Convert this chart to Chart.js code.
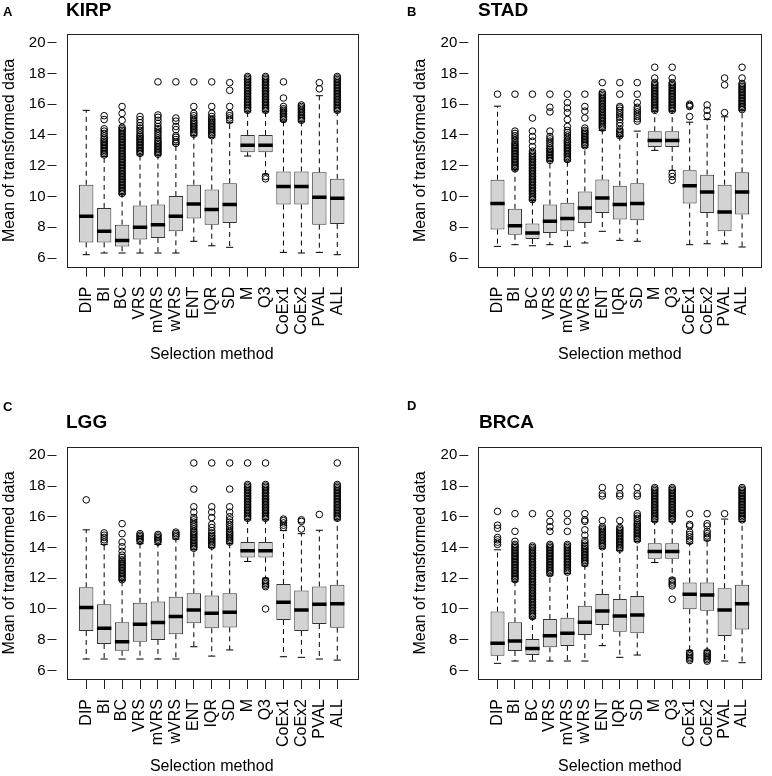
<!DOCTYPE html>
<html>
<head>
<meta charset="utf-8">
<script src="https://cdn.jsdelivr.net/npm/chart.js@4.4.1/dist/chart.umd.min.js"></script>
<style>
  body { margin: 0; background: #fff; }
  #wrap { position: relative; width: 772px; height: 776px; font-family: 'Liberation Sans', Arial, Helvetica, sans-serif; }
  canvas { position: absolute; }
  .lbl { position: absolute; font-weight: bold; line-height: 1; color: #000; white-space: nowrap; }
</style>
</head>
<body>
<div id="wrap">
  <canvas id="kirp" width="386" height="388" style="left:0;top:0"></canvas>
  <canvas id="stad" width="386" height="388" style="left:386px;top:0"></canvas>
  <canvas id="lgg" width="386" height="388" style="left:0;top:388px"></canvas>
  <canvas id="brca" width="386" height="388" style="left:386px;top:388px"></canvas>
  <div class="lbl" style="left:3px;top:5px;font-size:13px">A</div>
  <div class="lbl" style="left:66px;top:0px;font-size:19px">KIRP</div>
  <div class="lbl" style="left:407px;top:5px;font-size:13px">B</div>
  <div class="lbl" style="left:478px;top:0px;font-size:19px">STAD</div>
  <div class="lbl" style="left:3px;top:400px;font-size:13px">C</div>
  <div class="lbl" style="left:66px;top:412px;font-size:19px">LGG</div>
  <div class="lbl" style="left:407px;top:399px;font-size:13px">D</div>
  <div class="lbl" style="left:479px;top:412px;font-size:19px">BRCA</div>
</div>
<script>
const FONT = "'Liberation Sans', Arial, Helvetica, sans-serif";

const categories = ['DIP', 'BI', 'BC', 'VRS', 'mVRS', 'wVRS', 'ENT', 'IQR', 'SD', 'M', 'Q3', 'CoEx1', 'CoEx2', 'PVAL', 'ALL'];
const yTicks = [6, 8, 10, 12, 14, 16, 18, 20];

// KIRP
const kirpLow = [6.22, 6.33, 6.33, 6.33, 6.33, 6.33, 7.09, 6.8, 6.7, 12.63, 11.45, 6.37, 6.33, 6.37, 6.22];
const kirpQ1 = [7.02, 7.02, 6.76, 7.2, 7.3, 7.74, 8.57, 8.17, 8.28, 12.88, 12.88, 9.48, 9.48, 8.17, 8.22];
const kirpMedian = [8.72, 7.74, 7.15, 8.0, 8.17, 8.72, 9.52, 9.15, 9.48, 13.33, 13.33, 10.65, 10.65, 9.96, 9.89];
const kirpQ3 = [10.76, 9.26, 8.17, 9.41, 9.48, 10.03, 10.77, 10.46, 10.87, 14.0, 14.0, 11.63, 11.63, 11.57, 11.15];
const kirpHigh = [15.6, 12.6, 10.15, 12.7, 12.7, 13.4, 13.95, 13.85, 14.8, 15.5, 15.5, 14.9, 14.85, 16.55, 15.5];
const kirpOutliers = [
  [],
  [12.7, 12.8, 12.9, 13.0, 13.1, 13.2, 13.3, 13.4, 13.5, 13.6, 13.7, 13.8, 13.95, 14.1, 14.25, 14.4, 15.0, 15.25],
  [10.2, 10.3, 10.4, 10.5, 10.6, 10.7, 10.8, 10.9, 11.0, 11.1, 11.2, 11.3, 11.4, 11.5, 11.6, 11.7, 11.8, 11.9, 12.0, 12.1, 12.2, 12.3, 12.4, 12.5, 12.6, 12.7, 12.8, 12.9, 13.0, 13.1, 13.2, 13.3, 13.4, 13.5, 13.6, 13.7, 13.8, 13.9, 14.0, 14.1, 14.2, 14.3, 14.4, 14.5, 14.95, 15.4, 15.85],
  [12.8, 12.9, 13.0, 13.1, 13.2, 13.3, 13.4, 13.5, 13.6, 13.7, 13.8, 13.9, 14.0, 14.15, 14.3, 14.45, 14.6, 14.8, 15.0, 15.2],
  [12.75, 12.85, 12.95, 13.05, 13.15, 13.25, 13.35, 13.45, 13.55, 13.65, 13.8, 13.95, 14.1, 14.25, 14.4, 14.55, 14.75, 14.95, 15.15, 15.3, 17.45],
  [13.45, 13.55, 13.7, 13.85, 13.95, 14.35, 14.55, 14.9, 15.1, 17.45],
  [14.05, 14.15, 14.25, 14.35, 14.45, 14.55, 14.65, 14.75, 14.85, 14.95, 15.1, 15.25, 15.4, 15.85, 17.45],
  [13.95, 14.05, 14.15, 14.25, 14.35, 14.45, 14.55, 14.65, 14.75, 14.85, 14.95, 15.05, 15.2, 15.4, 15.85, 17.45],
  [14.95, 15.1, 15.25, 15.4, 15.85, 16.9, 17.4],
  [15.6, 15.7, 15.8, 15.9, 16.0, 16.1, 16.2, 16.3, 16.4, 16.5, 16.6, 16.7, 16.8, 16.9, 17.0, 17.1, 17.2, 17.3, 17.4, 17.5, 17.6, 17.7, 17.8],
  [11.15, 11.3, 15.6, 15.7, 15.8, 15.9, 16.0, 16.1, 16.2, 16.3, 16.4, 16.5, 16.6, 16.7, 16.8, 16.9, 17.0, 17.1, 17.2, 17.3, 17.4, 17.5, 17.6, 17.7, 17.8],
  [15.0, 15.1, 15.2, 15.3, 15.4, 15.5, 15.6, 15.7, 15.85, 16.4, 17.45],
  [14.95, 15.05, 15.15, 15.25, 15.35, 15.45, 15.55, 15.65, 15.75, 15.85, 15.95],
  [17.0, 17.4],
  [15.6, 15.7, 15.8, 15.9, 16.0, 16.1, 16.2, 16.3, 16.4, 16.5, 16.6, 16.7, 16.8, 16.9, 17.0, 17.1, 17.2, 17.3, 17.4, 17.5, 17.6, 17.7, 17.8]
];

// STAD
const stadLow = [6.76, 6.87, 6.8, 6.87, 6.76, 6.98, 7.74, 7.15, 7.09, 13.0, 11.7, 6.87, 6.93, 6.93, 6.72];
const stadQ1 = [7.85, 7.52, 7.24, 7.63, 7.74, 8.28, 8.93, 8.5, 8.46, 13.22, 13.22, 9.54, 8.93, 7.74, 8.83];
const stadMedian = [9.54, 8.1, 7.63, 8.39, 8.57, 9.26, 9.9, 9.48, 9.54, 13.64, 13.64, 10.7, 10.29, 9.0, 10.29];
const stadQ3 = [11.09, 9.2, 8.24, 9.48, 9.59, 10.33, 11.1, 10.7, 10.87, 14.24, 14.24, 11.7, 11.42, 10.77, 11.57];
const stadHigh = [15.87, 11.75, 9.75, 12.3, 12.3, 13.2, 14.3, 13.9, 14.25, 15.55, 15.55, 14.83, 15.0, 15.18, 15.6];
const stadOutliers = [
  [16.65],
  [11.8, 11.9, 12.0, 12.1, 12.2, 12.3, 12.4, 12.5, 12.6, 12.7, 12.8, 12.9, 13.0, 13.1, 13.2, 13.3, 13.4, 13.5, 13.65, 13.8, 13.95, 14.1, 14.25, 16.65],
  [9.8, 9.9, 10.0, 10.1, 10.2, 10.3, 10.4, 10.5, 10.6, 10.7, 10.8, 10.9, 11.0, 11.1, 11.2, 11.3, 11.4, 11.5, 11.6, 11.7, 11.8, 11.9, 12.0, 12.1, 12.2, 12.3, 12.4, 12.5, 12.6, 12.7, 12.8, 12.95, 13.25, 13.6, 13.9, 14.25, 15.1, 16.65],
  [12.35, 12.45, 12.55, 12.65, 12.75, 12.85, 12.95, 13.05, 13.15, 13.3, 13.45, 13.6, 13.75, 13.9, 14.25, 15.5, 15.8, 16.65],
  [12.4, 12.5, 12.6, 12.7, 12.8, 12.9, 13.0, 13.1, 13.2, 13.3, 13.4, 13.5, 13.6, 13.7, 13.85, 14.0, 14.15, 14.3, 14.55, 15.0, 15.45, 15.75, 16.1, 16.65],
  [13.3, 13.4, 13.5, 13.6, 13.7, 13.8, 13.9, 14.0, 14.1, 14.2, 14.3, 14.45, 15.1, 15.55, 15.85, 16.65],
  [14.45, 14.55, 14.65, 14.75, 14.85, 14.95, 15.05, 15.15, 15.25, 15.35, 15.45, 15.55, 15.65, 15.75, 15.85, 15.95, 16.05, 16.15, 16.25, 16.35, 16.45, 16.55, 16.65, 16.75, 17.4],
  [13.95, 14.05, 14.15, 14.25, 14.35, 14.6, 14.8, 15.0, 15.15, 15.3, 15.45, 15.6, 15.75, 15.85, 16.65, 17.4],
  [14.9, 15.05, 15.2, 15.35, 15.5, 15.65, 15.8, 16.1, 16.65, 17.4],
  [15.6, 15.7, 15.8, 15.9, 16.0, 16.1, 16.2, 16.3, 16.4, 16.5, 16.6, 16.7, 16.8, 16.9, 17.0, 17.1, 17.2, 17.3, 17.4, 17.7, 18.4],
  [11.05, 11.3, 11.5, 15.6, 15.7, 15.8, 15.9, 16.0, 16.1, 16.2, 16.3, 16.4, 16.5, 16.6, 16.7, 16.8, 16.9, 17.0, 17.1, 17.2, 17.3, 17.4, 17.7, 18.4],
  [15.2, 15.85, 15.92, 16.0],
  [15.25, 15.6, 15.95],
  [15.45, 17.25, 17.7],
  [15.65, 15.75, 15.85, 15.95, 16.05, 16.15, 16.25, 16.35, 16.45, 16.55, 16.65, 16.75, 16.85, 16.95, 17.05, 17.15, 17.25, 17.35, 17.7, 18.4]
];

// LGG
const lggLow = [6.74, 6.74, 6.74, 6.74, 6.74, 6.74, 7.54, 6.93, 7.33, 13.09, 12.0, 6.89, 6.85, 6.74, 6.67];
const lggQ1 = [8.57, 7.72, 7.28, 7.87, 7.98, 8.35, 9.07, 8.74, 8.8, 13.35, 13.35, 9.28, 8.57, 9.02, 8.78];
const lggMedian = [10.09, 8.74, 7.87, 9.0, 9.11, 9.5, 9.93, 9.72, 9.78, 13.78, 13.78, 10.43, 9.93, 10.3, 10.33];
const lggQ3 = [11.41, 10.3, 9.13, 10.41, 10.48, 10.8, 11.02, 10.87, 11.02, 14.35, 14.35, 11.63, 11.2, 11.46, 11.57];
const lggHigh = [15.15, 14.2, 11.85, 14.25, 14.2, 14.55, 13.85, 14.0, 14.25, 15.8, 15.8, 15.1, 14.9, 15.12, 15.8];
const lggOutliers = [
  [17.1],
  [14.35, 14.5, 14.65, 14.8, 14.95],
  [11.9, 12.0, 12.1, 12.2, 12.3, 12.4, 12.5, 12.6, 12.7, 12.8, 12.9, 13.0, 13.1, 13.2, 13.35, 13.5, 13.75, 14.05, 14.35, 14.9, 15.55],
  [14.4, 14.5, 14.6, 14.7, 14.8, 14.9],
  [14.35, 14.45, 14.55, 14.65, 14.75, 14.85],
  [14.7, 14.8, 14.9, 15.0],
  [13.95, 14.05, 14.15, 14.25, 14.35, 14.45, 14.55, 14.65, 14.75, 14.85, 14.95, 15.05, 15.2, 15.35, 15.5, 15.65, 15.8, 15.95, 16.3, 16.65, 17.8, 19.5],
  [14.1, 14.2, 14.3, 14.4, 14.5, 14.6, 14.7, 14.8, 14.95, 15.1, 15.3, 15.5, 15.95, 16.3, 16.65, 19.5],
  [14.35, 14.45, 14.55, 14.65, 14.75, 14.85, 14.95, 15.05, 15.2, 15.35, 15.5, 15.65, 15.8, 16.0, 16.3, 16.65, 17.8, 19.5],
  [15.9, 16.0, 16.1, 16.2, 16.3, 16.4, 16.5, 16.6, 16.7, 16.8, 16.9, 17.0, 17.1, 17.2, 17.3, 17.4, 17.5, 17.6, 17.7, 17.8, 17.9, 18.0, 18.1, 19.5],
  [10.0, 11.45, 11.55, 11.65, 11.75, 11.85, 15.9, 16.0, 16.1, 16.2, 16.3, 16.4, 16.5, 16.6, 16.7, 16.8, 16.9, 17.0, 17.1, 17.2, 17.3, 17.4, 17.5, 17.6, 17.7, 17.8, 17.9, 18.0, 18.1, 19.5],
  [15.3, 15.45, 15.6, 15.75, 15.85],
  [15.2, 15.7, 15.8],
  [16.15],
  [15.9, 16.0, 16.1, 16.2, 16.3, 16.4, 16.5, 16.6, 16.7, 16.8, 16.9, 17.0, 17.1, 17.2, 17.3, 17.4, 17.5, 17.6, 17.7, 17.8, 17.9, 18.0, 18.1, 19.5]
];

// BRCA
const brcaLow = [6.46, 6.61, 6.61, 6.61, 6.61, 6.61, 7.61, 6.85, 7.0, 13.02, 12.0, 7.3, 7.3, 6.61, 6.5];
const brcaQ1 = [6.96, 7.26, 7.0, 7.5, 7.59, 8.3, 8.96, 8.52, 8.41, 13.26, 13.26, 9.98, 9.89, 8.24, 8.67];
const brcaMedian = [7.76, 7.91, 7.43, 8.26, 8.41, 9.13, 9.87, 9.54, 9.61, 13.74, 13.74, 10.96, 10.91, 9.93, 10.33];
const brcaQ3 = [9.83, 9.13, 8.04, 9.35, 9.43, 10.2, 10.98, 10.65, 10.85, 14.28, 14.28, 11.72, 11.72, 11.35, 11.57];
const brcaHigh = [13.85, 11.8, 9.4, 12.2, 12.3, 12.8, 13.95, 13.8, 14.4, 15.7, 15.7, 14.27, 14.47, 15.85, 15.7];
const brcaOutliers = [
  [14.2, 14.35, 14.5, 14.65, 15.25, 15.45, 16.35],
  [11.9, 12.0, 12.1, 12.2, 12.3, 12.4, 12.5, 12.6, 12.7, 12.8, 12.9, 13.0, 13.1, 13.2, 13.3, 13.4, 13.5, 13.6, 13.7, 13.8, 13.9, 14.0, 14.1, 14.2, 14.4, 15.05, 16.2],
  [9.5, 9.6, 9.7, 9.8, 9.9, 10.0, 10.1, 10.2, 10.3, 10.4, 10.5, 10.6, 10.7, 10.8, 10.9, 11.0, 11.1, 11.2, 11.3, 11.4, 11.5, 11.6, 11.7, 11.8, 11.9, 12.0, 12.1, 12.2, 12.3, 12.4, 12.5, 12.6, 12.7, 12.8, 12.9, 13.0, 13.1, 13.2, 13.3, 13.4, 13.5, 13.6, 13.7, 13.8, 13.9, 14.0, 14.1, 16.2],
  [12.3, 12.4, 12.5, 12.6, 12.7, 12.8, 12.9, 13.0, 13.1, 13.2, 13.3, 13.4, 13.5, 13.6, 13.7, 13.8, 13.9, 14.0, 14.1, 14.2, 15.05, 15.35, 15.7, 16.2],
  [12.4, 12.5, 12.6, 12.7, 12.8, 12.9, 13.0, 13.1, 13.2, 13.3, 13.4, 13.5, 13.6, 13.7, 13.8, 13.9, 14.0, 14.1, 14.2, 15.05, 15.7, 16.2],
  [12.95, 13.05, 13.15, 13.25, 13.35, 13.45, 13.55, 13.65, 13.75, 13.85, 13.95, 14.05, 14.15, 14.3, 14.45, 14.8, 15.15, 15.7, 15.8, 16.2],
  [14.05, 14.15, 14.25, 14.35, 14.45, 14.55, 14.65, 14.75, 14.85, 14.95, 15.05, 15.15, 15.25, 15.35, 15.75, 17.35, 17.5, 17.9],
  [13.9, 14.0, 14.1, 14.2, 14.3, 14.4, 14.5, 14.6, 14.7, 14.8, 14.9, 15.0, 15.1, 15.2, 15.3, 15.75, 17.35, 17.5, 17.9],
  [14.5, 14.6, 14.7, 14.8, 14.9, 15.0, 15.1, 15.2, 15.3, 15.4, 15.5, 15.6, 15.75, 15.9, 16.05, 16.2, 17.35, 17.5, 17.9],
  [15.8, 15.9, 16.0, 16.1, 16.2, 16.3, 16.4, 16.5, 16.6, 16.7, 16.8, 16.9, 17.0, 17.1, 17.2, 17.3, 17.4, 17.5, 17.6, 17.7, 17.8, 17.9],
  [10.63, 11.5, 11.62, 11.75, 11.88, 15.8, 15.9, 16.0, 16.1, 16.2, 16.3, 16.4, 16.5, 16.6, 16.7, 16.8, 16.9, 17.0, 17.1, 17.2, 17.3, 17.4, 17.5, 17.6, 17.7, 17.8, 17.9],
  [6.65, 6.75, 6.85, 6.95, 7.05, 7.15, 14.4, 14.55, 14.7, 14.85, 15.0, 15.4, 15.5, 16.2],
  [6.6, 6.7, 6.8, 6.9, 7.0, 7.1, 7.2, 14.6, 14.75, 14.9, 15.05, 15.4, 15.55, 16.2],
  [16.2],
  [15.8, 15.9, 16.0, 16.1, 16.2, 16.3, 16.4, 16.5, 16.6, 16.7, 16.8, 16.9, 17.0, 17.1, 17.2, 17.3, 17.4, 17.5, 17.6, 17.7, 17.8, 17.9]
];

// Draw the closed box around the plot region, like R's box()
const frame = {
    id: 'frame',
    afterDatasetsDraw(chart) {
        const a = chart.chartArea;
        const ctx = chart.ctx;
        ctx.save();
        ctx.strokeStyle = '#222';
        ctx.lineWidth = 1;
        ctx.strokeRect(Math.round(a.left) + 0.5, Math.round(a.top) + 0.5, Math.round(a.right - a.left), Math.round(a.bottom - a.top));
        ctx.restore();
    }
};

function boxChart(id, g, low, q1, median, q3, high, outliers) {
    const boxes = [], medians = [], whiskers = [], caps = [], points = [];
    categories.forEach((c, i) => {
        const x = i + 1;
        boxes.push({ x: x, y: [q1[i], q3[i]] });
        medians.push({ x: x, y: median[i] });
        whiskers.push({ x: x, y: q3[i] }, { x: x, y: high[i] }, { x: x, y: null });
        whiskers.push({ x: x, y: q1[i] }, { x: x, y: low[i] }, { x: x, y: null });
        caps.push({ x: x, y: low[i] }, { x: x, y: high[i] });
        outliers[i].forEach(v => points.push({ x: x, y: v }));
    });

    return new Chart(document.getElementById(id), {
        type: 'bar',
        data: {
            datasets: [
                {
                    type: 'line', data: whiskers, borderColor: '#000', borderWidth: 1,
                    borderDash: [5, 4], pointRadius: 0, spanGaps: false, fill: false, order: 5
                },
                {
                    type: 'bar', data: boxes, backgroundColor: '#d3d3d3', borderColor: '#333',
                    borderWidth: 1, borderSkipped: false, barPercentage: 0.8, categoryPercentage: 1, order: 4
                },
                {
                    type: 'scatter', data: medians, pointStyle: 'line', pointRadius: 7.2,
                    borderColor: '#000', pointBorderWidth: 3.5, order: 3
                },
                {
                    type: 'scatter', data: caps, pointStyle: 'line', pointRadius: 3.6,
                    borderColor: '#000', pointBorderWidth: 1, order: 3
                },
                {
                    type: 'scatter', data: points, pointStyle: 'circle', pointRadius: 3.3,
                    borderColor: '#000', backgroundColor: 'rgba(0,0,0,0)', pointBorderWidth: 1, order: 2
                }
            ]
        },
        options: {
            responsive: false,
            animation: false,
            events: [],
            devicePixelRatio: 1,
            layout: { padding: { left: 0, top: g.top, right: g.right, bottom: 0 } },
            plugins: { legend: { display: false }, tooltip: { enabled: false } },
            scales: {
                x: {
                    type: 'linear',
                    offset: false,  // bar charts add edge space by default; R's xlim is exact
                    min: -0.1,
                    max: 16.1,
                    afterBuildTicks: s => { s.ticks = categories.map((c, i) => ({ value: i + 1 })); },
                    afterFit: s => { s.height = g.xh; },
                    ticks: {
                        autoSkip: false, maxRotation: 90, minRotation: 90, padding: 10,
                        color: '#000', font: { size: 16, family: FONT },
                        callback: v => categories[v - 1]
                    },
                    grid: { offset: false, drawOnChartArea: false, tickLength: 10, color: '#222' },
                    border: { display: false },
                    title: {
                        display: true, text: 'Selection method', color: '#000',
                        font: { size: 16, family: FONT }, padding: { top: 0, bottom: g.xtPad }
                    }
                },
                y: {
                    min: 5.44,
                    max: 20.56,
                    afterBuildTicks: s => { s.ticks = yTicks.map(v => ({ value: v })); },
                    afterFit: s => { s.width = g.yw; },
                    ticks: { padding: 2, color: '#000', font: { size: 15, family: FONT } },
                    grid: { drawOnChartArea: false, tickLength: 19, tickBorderDash: [9, 20], color: '#222' },
                    border: { display: false },
                    title: {
                        display: true, text: 'Mean of transformed data', color: '#000',
                        font: { size: 16, family: FONT }, padding: { top: g.ytPad, bottom: 0 }
                    }
                }
            }
        },
        plugins: [frame]
    });
}

const topLeft = { top: 34, right: 29, yw: 66.5, xh: 121.3, xtPad: 23.4, ytPad: 0 };
const topRight = { top: 34, right: 3, yw: 92.3, xh: 121.3, xtPad: 23.4, ytPad: 25.4 };
const bottomLeft = { top: 58.7, right: 29, yw: 66.5, xh: 97, xtPad: 0, ytPad: 0 };
const bottomRight = { top: 58.7, right: 3, yw: 92.3, xh: 97, xtPad: 0, ytPad: 25.4 };

boxChart('kirp', topLeft, kirpLow, kirpQ1, kirpMedian, kirpQ3, kirpHigh, kirpOutliers);
boxChart('stad', topRight, stadLow, stadQ1, stadMedian, stadQ3, stadHigh, stadOutliers);
boxChart('lgg', bottomLeft, lggLow, lggQ1, lggMedian, lggQ3, lggHigh, lggOutliers);
boxChart('brca', bottomRight, brcaLow, brcaQ1, brcaMedian, brcaQ3, brcaHigh, brcaOutliers);
</script>
</body>
</html>
